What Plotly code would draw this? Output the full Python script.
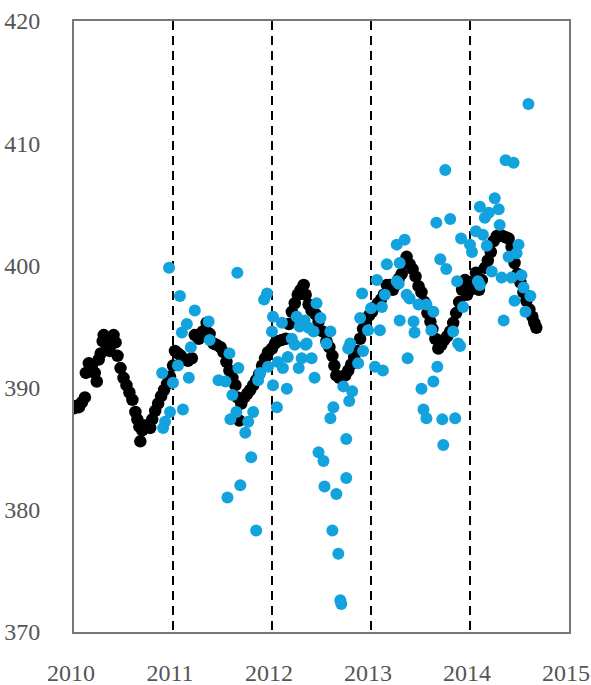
import plotly.graph_objects as go

# Continuous record (black)
cont_t = [2010.00, 2010.02, 2010.05, 2010.08, 2010.11, 2010.12, 2010.15, 2010.18, 2010.21, 2010.23,
          2010.25, 2010.27, 2010.29, 2010.30, 2010.33, 2010.36, 2010.38, 2010.40, 2010.42, 2010.44,
          2010.47, 2010.50, 2010.53, 2010.56, 2010.59, 2010.62, 2010.64, 2010.66, 2010.67, 2010.69,
          2010.71, 2010.74, 2010.77, 2010.79, 2010.82, 2010.85, 2010.88, 2010.91, 2010.94, 2010.97,
          2011.00, 2011.02, 2011.05, 2011.08, 2011.11, 2011.15, 2011.19, 2011.22, 2011.26, 2011.30,
          2011.34, 2011.37, 2011.41, 2011.44, 2011.48, 2011.51, 2011.54, 2011.57, 2011.60, 2011.63,
          2011.65, 2011.67, 2011.69, 2011.72, 2011.75, 2011.78, 2011.81, 2011.84, 2011.87, 2011.90,
          2011.93, 2011.96, 2012.00, 2012.03, 2012.06, 2012.10, 2012.14, 2012.17, 2012.20, 2012.23,
          2012.26, 2012.29, 2012.32, 2012.34, 2012.37, 2012.40, 2012.44, 2012.47, 2012.51, 2012.55,
          2012.58, 2012.61, 2012.63, 2012.65, 2012.68, 2012.71, 2012.74, 2012.77, 2012.80, 2012.83,
          2012.86, 2012.89, 2012.92, 2012.95, 2012.98, 2013.01, 2013.04, 2013.07, 2013.10, 2013.13,
          2013.16, 2013.19, 2013.22, 2013.25, 2013.28, 2013.31, 2013.34, 2013.36, 2013.39, 2013.42,
          2013.45, 2013.48, 2013.51, 2013.54, 2013.57, 2013.60, 2013.62, 2013.65, 2013.68, 2013.71,
          2013.74, 2013.77, 2013.80, 2013.83, 2013.86, 2013.89, 2013.92, 2013.95, 2013.97, 2014.00,
          2014.03, 2014.06, 2014.09, 2014.12, 2014.15, 2014.18, 2014.21, 2014.24, 2014.27, 2014.30,
          2014.33, 2014.36, 2014.39, 2014.42, 2014.45, 2014.48, 2014.51, 2014.54, 2014.57, 2014.60,
          2014.63, 2014.65, 2014.67]
cont_v = [388.3, 388.5, 388.4, 388.8, 389.2, 391.2, 392.0, 391.7, 391.2, 390.5,
          392.3, 392.8, 393.8, 394.3, 393.5, 393.0, 393.7, 394.3, 393.7, 392.6,
          391.6, 390.8, 390.2, 389.6, 389.0, 388.0, 387.4, 386.8, 385.6, 386.5,
          386.9, 386.9, 386.7, 387.4, 388.1, 388.7, 389.3, 389.8, 390.3, 390.9,
          391.8, 393.0, 392.8, 392.6, 392.3, 392.2, 392.4, 394.3, 394.0, 394.6,
          395.3, 394.4, 393.6, 393.5, 393.3, 392.9, 392.1, 391.4, 390.8, 390.2,
          389.2, 387.3, 388.7, 389.2, 389.5, 389.8, 390.2, 390.6, 391.1, 391.8,
          392.4, 392.9, 393.2, 393.6, 393.8, 393.9, 394.0, 395.2, 396.2, 396.9,
          397.6, 398.0, 398.4, 397.6, 396.8, 396.3, 396.0, 395.4, 394.6, 393.8,
          393.3, 392.6, 391.8, 391.0, 390.8, 390.9, 391.0, 391.4, 391.9, 392.5,
          393.0, 394.0, 394.8, 395.6, 395.9, 396.2, 396.6, 396.9, 397.2, 397.6,
          398.4, 398.4, 398.0, 398.4, 398.9, 399.3, 400.2, 400.7, 400.1, 399.7,
          399.1, 398.3, 397.8, 397.0, 396.1, 395.4, 394.8, 394.0, 393.2, 393.5,
          393.9, 394.2, 394.6, 395.3, 396.1, 397.0, 398.0, 398.8, 397.6, 398.0,
          398.6, 399.4, 398.0, 398.8, 399.8, 400.4, 401.1, 402.0, 402.4, 402.4,
          402.4, 402.3, 402.2, 401.5, 400.2, 399.3, 398.6, 397.8, 397.1, 396.4,
          395.8, 395.3, 394.9]

# Individual samples (blue)
samp_t = [2010.89, 2010.90, 2010.92, 2010.96, 2010.97, 2011.00, 2011.05, 2011.07, 2011.09, 2011.10,
          2011.14, 2011.16, 2011.18, 2011.22, 2011.36, 2011.37, 2011.46, 2011.53, 2011.55, 2011.57,
          2011.58, 2011.60, 2011.64, 2011.65, 2011.66, 2011.68, 2011.73, 2011.76, 2011.79, 2011.81,
          2011.84, 2011.86, 2011.88, 2011.92, 2011.95, 2011.96, 2012.00, 2012.01, 2012.01, 2012.05,
          2012.06, 2012.10, 2012.11, 2012.15, 2012.16, 2012.20, 2012.23, 2012.25, 2012.27, 2012.28,
          2012.30, 2012.33, 2012.34, 2012.35, 2012.37, 2012.40, 2012.42, 2012.43, 2012.45, 2012.47,
          2012.49, 2012.52, 2012.53, 2012.55, 2012.59, 2012.59, 2012.61, 2012.62, 2012.65, 2012.67,
          2012.69, 2012.70, 2012.72, 2012.75, 2012.75, 2012.77, 2012.78, 2012.79, 2012.81, 2012.87,
          2012.89, 2012.91, 2012.92, 2012.97, 2013.00, 2013.04, 2013.06, 2013.09, 2013.11, 2013.12,
          2013.14, 2013.16, 2013.26, 2013.26, 2013.28, 2013.29, 2013.29, 2013.34, 2013.36, 2013.37,
          2013.39, 2013.43, 2013.44, 2013.48, 2013.51, 2013.53, 2013.56, 2013.56, 2013.61, 2013.63,
          2013.63, 2013.66, 2013.67, 2013.70, 2013.72, 2013.73, 2013.75, 2013.76, 2013.80, 2013.83,
          2013.85, 2013.87, 2013.88, 2013.90, 2013.91, 2013.93, 2014.00, 2014.02, 2014.06, 2014.08,
          2014.10, 2014.10, 2014.13, 2014.15, 2014.17, 2014.19, 2014.22, 2014.25, 2014.29, 2014.30,
          2014.32, 2014.34, 2014.36, 2014.39, 2014.42, 2014.44, 2014.45, 2014.47, 2014.49, 2014.52,
          2014.54, 2014.56, 2014.59, 2014.61]
samp_v = [391.2, 386.7, 387.2, 399.8, 388.0, 390.4, 391.8, 397.5, 394.5, 388.2,
          395.2, 390.8, 393.3, 396.3, 395.4, 393.9, 390.6, 390.5, 381.0, 392.8,
          387.4, 389.4, 388.0, 399.4, 391.6, 382.0, 386.3, 387.2, 384.3, 388.0,
          378.3, 390.6, 391.2, 397.2, 397.7, 391.7, 394.6, 395.8, 390.2, 388.4,
          392.1, 395.3, 391.6, 389.9, 392.5, 394.0, 393.5, 395.8, 391.6, 395.0,
          392.4, 395.5, 393.5, 393.6, 394.9, 392.4, 394.6, 390.8, 396.9, 384.7,
          395.7, 384.0, 381.9, 393.6, 394.6, 387.5, 378.3, 388.4, 381.3, 376.4,
          372.6, 372.3, 390.1, 385.8, 382.6, 393.2, 388.9, 393.6, 389.7, 392.0,
          395.7, 397.7, 393.0, 394.7, 396.5, 391.7, 398.8, 394.7, 396.6, 391.4,
          397.6, 400.1, 401.7, 398.7, 398.5, 400.2, 395.5, 402.1, 397.6, 392.4,
          397.3, 395.4, 394.5, 396.8, 389.9, 388.2, 387.5, 396.8, 394.7, 396.2,
          390.5, 403.5, 391.7, 400.5, 387.4, 385.3, 407.8, 399.7, 403.8, 394.6,
          387.5, 398.7, 393.6, 393.4, 402.2, 396.6, 401.7, 401.1, 402.8, 398.7,
          404.8, 398.4, 402.5, 403.9, 401.6, 404.3, 399.5, 405.5, 404.6, 403.3,
          399.0, 395.5, 408.6, 400.7, 399.0, 408.4, 397.1, 401.0, 401.7, 399.2,
          398.2, 396.2, 413.2, 397.5]

x_ticks = [2010, 2011, 2012, 2013, 2014, 2015]
y_ticks = [370, 380, 390, 400, 410, 420]

tick_font = dict(family="Liberation Serif", size=24, color="#555555")

fig = go.Figure()
fig.add_trace(go.Scatter(
    x=cont_t, y=cont_v, mode="markers",
    marker=dict(color="black", size=12.5, line=dict(width=0)),
    showlegend=False, hoverinfo="skip"))
fig.add_trace(go.Scatter(
    x=samp_t, y=samp_v, mode="markers",
    marker=dict(color="#12A2DE", size=12, line=dict(width=0)),
    showlegend=False, hoverinfo="skip"))

fig.update_xaxes(
    range=[2010, 2015], tickvals=x_ticks, ticktext=[str(v) for v in x_ticks],
    showgrid=True, gridcolor="black", gridwidth=1.8, griddash="9px,6px",
    showline=True, linecolor="#777777", linewidth=2, mirror=True,
    ticks="outside", ticklen=18, tickcolor="rgba(0,0,0,0)",
    ticklabelshift=-3,
    tickfont=tick_font, zeroline=False, automargin=False,
    ticklabeloverflow="allow")
fig.update_yaxes(
    range=[370, 420], tickvals=y_ticks, ticktext=[str(v) for v in y_ticks],
    showgrid=False, showline=True, linecolor="#777777", linewidth=2, mirror=True,
    ticks="outside", ticklen=27, tickcolor="rgba(0,0,0,0)",
    tickfont=tick_font, zeroline=False, automargin=False,
    ticklabeloverflow="allow")

fig.update_layout(
    width=591, height=685,
    margin=dict(l=74, r=22, t=21, b=53),
    plot_bgcolor="white", paper_bgcolor="white")

fig.write_html("out.html")
